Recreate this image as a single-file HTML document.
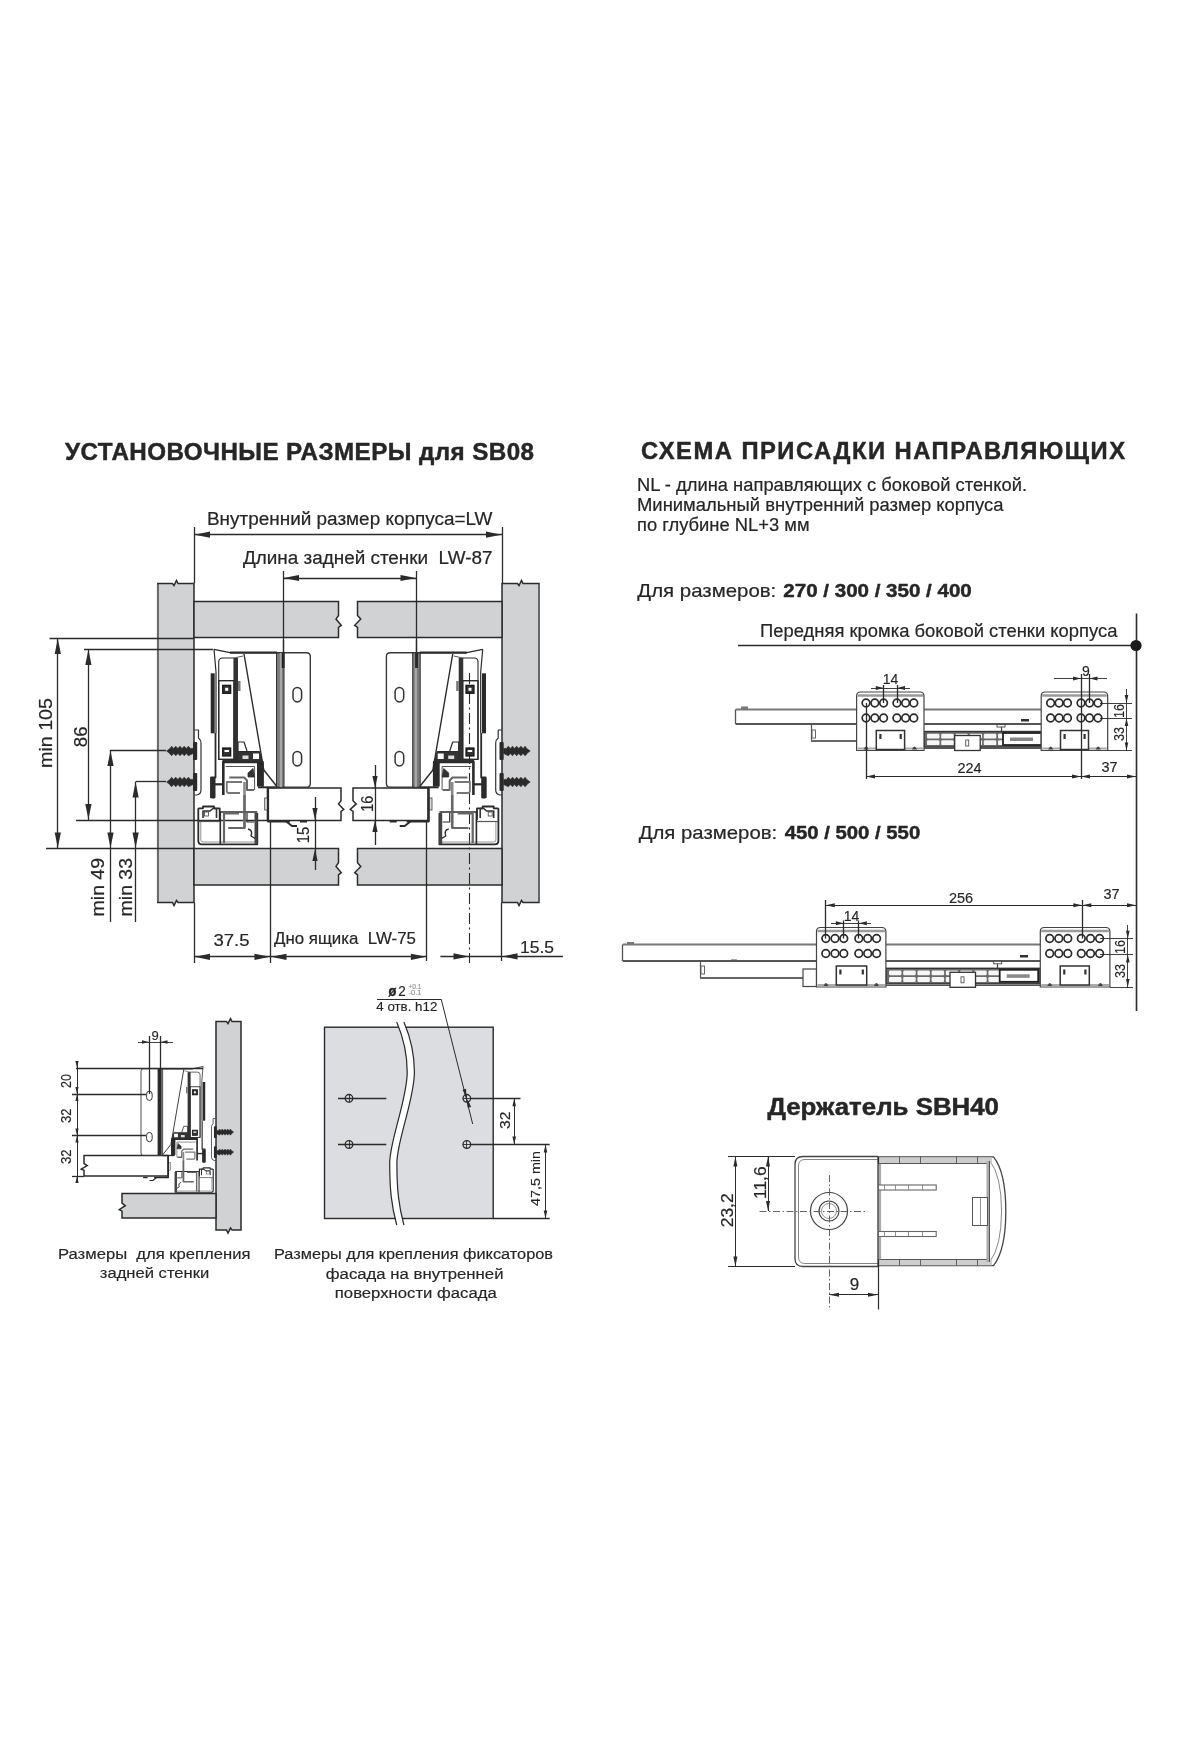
<!DOCTYPE html>
<html><head><meta charset="utf-8">
<style>
html,body{margin:0;padding:0;background:#fff;}
body{width:1200px;height:1760px;overflow:hidden;}
svg{display:block;font-family:"Liberation Sans", sans-serif;will-change:transform;}
</style></head><body>
<svg width="1200" height="1760" viewBox="0 0 1200 1760">
<text x="65" y="460" font-size="24.2" font-weight="700" text-anchor="start" fill="#262626" stroke="#262626" stroke-width="0.45" textLength="469" lengthAdjust="spacing" >УСТАНОВОЧНЫЕ РАЗМЕРЫ для SB08</text>
<text x="207" y="524.5" font-size="18" font-weight="400" text-anchor="start" fill="#262626" stroke="#262626" stroke-width="0.20" textLength="285.5" lengthAdjust="spacingAndGlyphs" >Внутренний размер корпуса=LW</text>
<text x="243" y="564" font-size="18" font-weight="400" text-anchor="start" fill="#262626" stroke="#262626" stroke-width="0.20" textLength="249.5" lengthAdjust="spacingAndGlyphs" >Длина задней стенки&#160;&#160;LW-87</text>
<path d="M157.8,583.5 H172.5 L174,585.5 L176.5,580.5 L178,583.5 H194 V902.5 H178 L176.5,900.5 L174,905.5 L172.5,902.5 H157.8 Z" fill="#d0d2d4" stroke="#2b2b2b" stroke-width="1.5" />
<path d="M502,583.5 H517.5 L519,585.5 L521.5,580.5 L523,583.5 H539 V902.5 H523 L521.5,900.5 L519,905.5 L517.5,902.5 H502 Z" fill="#d0d2d4" stroke="#2b2b2b" stroke-width="1.5" />
<line x1="157.8" y1="584.5" x2="157.8" y2="901.5" stroke="#6a6a6a" stroke-width="1.8"/>
<line x1="539" y1="584.5" x2="539" y2="901.5" stroke="#6a6a6a" stroke-width="1.8"/>
<path d="M194,601.5 H338.5 V615.5 L336.0,619.1 L341.25,625.3 L338.5,627.4 V637.5 H194 Z" fill="#d0d2d4" stroke="#2b2b2b" stroke-width="1.5" />
<path d="M502,601.5 H357.5 V615.5 L360.75,619.1 L354.75,625.3 L357.5,627.4 V637.5 H502 Z" fill="#d0d2d4" stroke="#2b2b2b" stroke-width="1.5" />
<path d="M194,848.5 H338.5 V862.7 L336.0,866.4 L341.25,872.6 L338.5,874.8 V885 H194 Z" fill="#d0d2d4" stroke="#2b2b2b" stroke-width="1.5" />
<path d="M502,848.5 H357.5 V862.7 L360.75,866.4 L354.75,872.6 L357.5,874.8 V885 H502 Z" fill="#d0d2d4" stroke="#2b2b2b" stroke-width="1.5" />
<path d="M267.5,788 H341 V800.7 L338.5,803.9 L343.75,809.5 L341,811.4 V820.5 H267.5 Z" fill="#fff" stroke="#2b2b2b" stroke-width="1.5" />
<path d="M428,788 H353 V800.7 L356.25,803.9 L350.25,809.5 L353,811.4 V820.5 H428 Z" fill="#fff" stroke="#2b2b2b" stroke-width="1.5" />
<line x1="194.5" y1="527" x2="194.5" y2="583" stroke="#2b2b2b" stroke-width="1.3" />
<line x1="502.5" y1="527" x2="502.5" y2="583" stroke="#2b2b2b" stroke-width="1.3" />
<line x1="194" y1="534.5" x2="502" y2="534.5" stroke="#2b2b2b" stroke-width="1.3" />
<path d="M194.50,534.70 L210.00,531.60 L210.00,537.80 Z" fill="#2b2b2b"/>
<path d="M501.50,534.70 L486.00,537.80 L486.00,531.60 Z" fill="#2b2b2b"/>
<line x1="283.5" y1="571" x2="283.5" y2="665" stroke="#2b2b2b" stroke-width="1.3" />
<line x1="416.5" y1="571" x2="416.5" y2="665" stroke="#2b2b2b" stroke-width="1.3" />
<line x1="283" y1="578.5" x2="416.5" y2="578.5" stroke="#2b2b2b" stroke-width="1.3" />
<path d="M283.50,578.00 L299.00,574.90 L299.00,581.10 Z" fill="#2b2b2b"/>
<path d="M416.00,578.00 L400.50,581.10 L400.50,574.90 Z" fill="#2b2b2b"/>
<line x1="49.5" y1="638.5" x2="194" y2="638.5" stroke="#2b2b2b" stroke-width="1.3" />
<line x1="84" y1="649.5" x2="213" y2="649.5" stroke="#2b2b2b" stroke-width="1.3" />
<line x1="110" y1="750.5" x2="166" y2="750.5" stroke="#2b2b2b" stroke-width="1.3" />
<line x1="136" y1="781.5" x2="166" y2="781.5" stroke="#2b2b2b" stroke-width="1.3" />
<line x1="76" y1="820.5" x2="267.5" y2="820.5" stroke="#2b2b2b" stroke-width="1.3" />
<line x1="46" y1="848.5" x2="194" y2="848.5" stroke="#2b2b2b" stroke-width="1.3" />
<line x1="57.5" y1="638" x2="57.5" y2="848.5" stroke="#2b2b2b" stroke-width="1.3" />
<path d="M57.80,638.50 L60.90,654.00 L54.70,654.00 Z" fill="#2b2b2b"/>
<path d="M57.80,848.00 L54.70,832.50 L60.90,832.50 Z" fill="#2b2b2b"/>
<line x1="88.5" y1="649" x2="88.5" y2="820" stroke="#2b2b2b" stroke-width="1.3" />
<path d="M88.40,649.50 L91.50,665.00 L85.30,665.00 Z" fill="#2b2b2b"/>
<path d="M88.40,819.50 L85.30,804.00 L91.50,804.00 Z" fill="#2b2b2b"/>
<line x1="110.5" y1="750" x2="110.5" y2="922" stroke="#2b2b2b" stroke-width="1.3" />
<path d="M110.50,750.50 L113.60,766.00 L107.40,766.00 Z" fill="#2b2b2b"/>
<path d="M110.50,848.00 L107.40,832.50 L113.60,832.50 Z" fill="#2b2b2b"/>
<line x1="135.5" y1="781.5" x2="135.5" y2="922" stroke="#2b2b2b" stroke-width="1.3" />
<path d="M135.60,782.00 L138.70,797.50 L132.50,797.50 Z" fill="#2b2b2b"/>
<path d="M135.60,848.00 L132.50,832.50 L138.70,832.50 Z" fill="#2b2b2b"/>
<text x="51.5" y="768" font-size="18" font-weight="400" text-anchor="start" fill="#262626" stroke="#262626" stroke-width="0.20" textLength="70" lengthAdjust="spacingAndGlyphs" transform="rotate(-90 51.5 768)" >min 105</text>
<text x="87" y="747.2" font-size="18" font-weight="400" text-anchor="start" fill="#262626" stroke="#262626" stroke-width="0.20" textLength="20.7" lengthAdjust="spacingAndGlyphs" transform="rotate(-90 87 747.2)" >86</text>
<text x="104" y="916.4" font-size="18" font-weight="400" text-anchor="start" fill="#262626" stroke="#262626" stroke-width="0.20" textLength="58.4" lengthAdjust="spacingAndGlyphs" transform="rotate(-90 104 916.4)" >min 49</text>
<text x="132" y="916.4" font-size="18" font-weight="400" text-anchor="start" fill="#262626" stroke="#262626" stroke-width="0.20" textLength="58.4" lengthAdjust="spacingAndGlyphs" transform="rotate(-90 132 916.4)" >min 33</text>
<line x1="194.5" y1="902.5" x2="194.5" y2="963" stroke="#2b2b2b" stroke-width="1.3" />
<line x1="270.5" y1="820" x2="270.5" y2="963" stroke="#2b2b2b" stroke-width="1.3" />
<line x1="426.5" y1="820" x2="426.5" y2="961" stroke="#2b2b2b" stroke-width="1.3" />
<line x1="501.5" y1="902.5" x2="501.5" y2="961" stroke="#2b2b2b" stroke-width="1.3" />
<line x1="469.5" y1="673" x2="469.5" y2="963" stroke="#2b2b2b" stroke-width="1.1" stroke-dasharray="11 3.5 2 3.5"/>
<line x1="194" y1="956.5" x2="426.9" y2="956.5" stroke="#2b2b2b" stroke-width="1.3" />
<path d="M194.50,956.80 L210.00,953.70 L210.00,959.90 Z" fill="#2b2b2b"/>
<path d="M270.00,956.80 L254.50,959.90 L254.50,953.70 Z" fill="#2b2b2b"/>
<path d="M271.00,956.80 L286.50,953.70 L286.50,959.90 Z" fill="#2b2b2b"/>
<path d="M426.40,956.80 L410.90,959.90 L410.90,953.70 Z" fill="#2b2b2b"/>
<line x1="440.4" y1="956.5" x2="562.9" y2="956.5" stroke="#2b2b2b" stroke-width="1.3" />
<path d="M469.00,956.40 L453.50,959.50 L453.50,953.30 Z" fill="#2b2b2b"/>
<path d="M502.00,956.40 L517.50,953.30 L517.50,959.50 Z" fill="#2b2b2b"/>
<text x="213.5" y="945.5" font-size="17" font-weight="400" text-anchor="start" fill="#262626" stroke="#262626" stroke-width="0.19" textLength="36" lengthAdjust="spacingAndGlyphs" >37.5</text>
<text x="274" y="943.75" font-size="17" font-weight="400" text-anchor="start" fill="#262626" stroke="#262626" stroke-width="0.19" textLength="142" lengthAdjust="spacingAndGlyphs" >Дно ящика&#160;&#160;LW-75</text>
<text x="520" y="952.5" font-size="17" font-weight="400" text-anchor="start" fill="#262626" stroke="#262626" stroke-width="0.19" textLength="34" lengthAdjust="spacingAndGlyphs" >15.5</text>
<line x1="315.5" y1="797" x2="315.5" y2="870" stroke="#2b2b2b" stroke-width="1.3" />
<path d="M315.00,820.00 L312.40,808.00 L317.60,808.00 Z" fill="#2b2b2b"/>
<path d="M315.00,849.00 L317.60,861.00 L312.40,861.00 Z" fill="#2b2b2b"/>
<line x1="375.5" y1="765" x2="375.5" y2="845" stroke="#2b2b2b" stroke-width="1.3" />
<path d="M375.00,788.00 L372.40,776.00 L377.60,776.00 Z" fill="#2b2b2b"/>
<path d="M375.00,820.00 L377.60,832.00 L372.40,832.00 Z" fill="#2b2b2b"/>
<text x="309.5" y="843.3" font-size="16" font-weight="400" text-anchor="start" fill="#262626" stroke="#262626" stroke-width="0.18" textLength="16.6" lengthAdjust="spacingAndGlyphs" transform="rotate(-90 309.5 843.3)" >15</text>
<text x="373.5" y="811.7" font-size="16" font-weight="400" text-anchor="start" fill="#262626" stroke="#262626" stroke-width="0.18" textLength="16" lengthAdjust="spacingAndGlyphs" transform="rotate(-90 373.5 811.7)" >16</text>
<g><path d="M276,652.7 H306.5 Q310.3,652.7 310.3,656.5 V783.5 Q310.3,787.3 306.5,787.3 H276" fill="none" stroke="#3a3a3a" stroke-width="1.4" stroke-linejoin="round"/>
<rect x="276.5" y="653" width="7.5" height="134" rx="0" fill="#7a7a7a" stroke="#333" stroke-width="1.0"/>
<rect x="279.8" y="653" width="2.2" height="134" rx="0" fill="#a8a8a8" stroke="none" stroke-width="0"/>
<rect x="293" y="687.5" width="8.6" height="14.4" rx="4.3" ry="4.6" fill="none" stroke="#333" stroke-width="1.5"/>
<rect x="293" y="751.5" width="8.6" height="14.4" rx="4.3" ry="4.6" fill="none" stroke="#333" stroke-width="1.5"/>
<path d="M214,649.3 L230,652.7 H277" fill="none" stroke="#2b2b2b" stroke-width="1.3" stroke-linejoin="round"/>
<path d="M230,652.7 H277" fill="none" stroke="#2b2b2b" stroke-width="2.2" stroke-linejoin="round"/>
<path d="M214,649.3 L216,672 V733" fill="none" stroke="#2b2b2b" stroke-width="1.2" stroke-linejoin="round"/>
<path d="M244,654 L263.8,770 L276.5,786" fill="none" stroke="#2b2b2b" stroke-width="1.4" stroke-linejoin="round"/>
<path d="M218.7,759.3 V662 Q218.7,658 222.7,658 H234 V759.3" fill="none" stroke="#2b2b2b" stroke-width="1.1" stroke-linejoin="round"/>
<path d="M234,658 L243,656" fill="none" stroke="#2b2b2b" stroke-width="0.8" stroke-linejoin="round"/>
<rect x="234" y="658" width="4" height="102" rx="0" fill="#333" stroke="none" stroke-width="1.0"/>
<rect x="218.7" y="680.7" width="15.3" height="78.6" rx="0" fill="none" stroke="#2b2b2b" stroke-width="1.4"/>
<rect x="222.7" y="685.3" width="8" height="8" rx="0" fill="#333" stroke="#111" stroke-width="1.2"/>
<rect x="225.2" y="687.8" width="3" height="3" rx="0" fill="#fff" stroke="none" stroke-width="1.0"/>
<rect x="222.7" y="748" width="8" height="8" rx="0" fill="#333" stroke="#111" stroke-width="1.2"/>
<rect x="224.5" y="750" width="4.5" height="2" rx="0" fill="#fff" stroke="none" stroke-width="1.0"/>
<rect x="238" y="681" width="2.5" height="10" rx="0" fill="#777" stroke="none" stroke-width="1.0"/>
<rect x="210.7" y="673.3" width="4" height="60" rx="0" fill="#2a2a2a" stroke="none" stroke-width="1.0"/>
<path d="M215.5,733 V777.5 H211 V798" fill="none" stroke="#2b2b2b" stroke-width="1.8" stroke-linejoin="round"/>
<rect x="210.5" y="777.5" width="5" height="21" rx="1.5" fill="#2a2a2a" stroke="none" stroke-width="1.0"/>
<path d="M237,759.5 V751.5 H259.5 L262.5,762 H223 V759.5 Z" fill="#333" stroke="#2b2b2b" stroke-width="1.0" stroke-linejoin="round"/>
<rect x="242.5" y="755.5" width="6" height="3.5" rx="0" fill="#ddd" stroke="none" stroke-width="1.0"/>
<rect x="253" y="753.5" width="6" height="5.5" rx="0" fill="#fff" stroke="none" stroke-width="1.0"/>
<path d="M238,751.5 V742 H244 L247,751" fill="none" stroke="#2b2b2b" stroke-width="1.2" stroke-linejoin="round"/>
<path d="M223.3,795 V762 H262.5 V786.5" fill="none" stroke="#2b2b2b" stroke-width="2.6" stroke-linejoin="round"/>
<rect x="257" y="762" width="6.4" height="24.5" rx="0" fill="#2a2a2a" stroke="none" stroke-width="1.0"/>
<path d="M225.5,766.5 H254.6 V790" fill="none" stroke="#555" stroke-width="1.0" stroke-linejoin="round"/>
<path d="M229.3,777.5 H244.3 L247,780.5 V790 H254" fill="none" stroke="#666" stroke-width="2.0" stroke-linejoin="round"/>
<path d="M242,782 H226.8 V791 Q226.8,793 229,793 H240" fill="none" stroke="#777" stroke-width="1.8" stroke-linejoin="round"/>
<path d="M248,773 L253,768.5 L254.5,777 L248,777 Z" fill="#333" stroke="#2b2b2b" stroke-width="0.8" stroke-linejoin="round"/>
<path d="M244.5,782 V828" fill="none" stroke="#8a8a8a" stroke-width="2.6" stroke-linejoin="round"/>
<path d="M223.3,784.3 H211" fill="none" stroke="#2b2b2b" stroke-width="2.2" stroke-linejoin="round"/>
<path d="M258,787.3 H277" fill="none" stroke="#2b2b2b" stroke-width="2.0" stroke-linejoin="round"/>
<path d="M198.3,808.3 V841 Q198.3,844.3 202,844.3 H257.3 V813" fill="none" stroke="#2b2b2b" stroke-width="1.8" stroke-linejoin="round"/>
<path d="M200.8,822 V840 Q200.8,842 203,842 H255" fill="none" stroke="#888" stroke-width="0.9" stroke-linejoin="round"/>
<path d="M198.3,808.3 H203 V806.5 H214 V808.3 H219.7 V820" fill="none" stroke="#2b2b2b" stroke-width="1.8" stroke-linejoin="round"/>
<path d="M203,818 V811 H210 L213,808.5 H216.5 V818" fill="none" stroke="#333" stroke-width="1.6" stroke-linejoin="round"/>
<rect x="204.5" y="812" width="4" height="4" rx="0" fill="#fff" stroke="#444" stroke-width="0.8"/>
<path d="M198.3,821.5 H219.7" fill="none" stroke="#555" stroke-width="1.2" stroke-linejoin="round"/>
<path d="M220.3,844 V812 H257.3" fill="none" stroke="#2b2b2b" stroke-width="1.6" stroke-linejoin="round"/>
<path d="M239,813.5 H224 V843" fill="none" stroke="#666" stroke-width="2.2" stroke-linejoin="round"/>
<path d="M244.5,795 V828 H228.3" fill="none" stroke="#666" stroke-width="2.2" stroke-linejoin="round"/>
<path d="M247,813 V822 H254" fill="none" stroke="#2b2b2b" stroke-width="1.2" stroke-linejoin="round"/>
<path d="M248,829 Q253,830 251,836 L256,839" fill="none" stroke="#2b2b2b" stroke-width="1.4" stroke-linejoin="round"/>
<rect x="254.5" y="813" width="3" height="31" rx="0" fill="#444" stroke="none" stroke-width="1.0"/>
<path d="M194.5,730 H198.5 V738 Q201,740 201,743 V790 Q201,794 197,795 H194.5" fill="none" stroke="#333" stroke-width="1.2" stroke-linejoin="round"/>
<rect x="264.7" y="798" width="3.3" height="12" rx="0" fill="#ddd" stroke="#444" stroke-width="0.8"/>
<path d="M268,788 V821.3 H290" fill="none" stroke="#2b2b2b" stroke-width="2.2" stroke-linejoin="round"/>
<path d="M286,821.3 L292,826 H297" fill="none" stroke="#2b2b2b" stroke-width="1.8" stroke-linejoin="round"/>
<path d="M300,821.5 H307" fill="none" stroke="#2b2b2b" stroke-width="2.0" stroke-linejoin="round"/>
<path d="M166.5,751.0 L170.0,748.4 L171.6,746.2 L173.6,748.4 L175.8,746.2 L177.8,748.4 L180.0,746.2 L182.0,748.4 L184.2,746.2 L186.2,748.4 L188.4,746.2 L190.4,748.4 L193.0,748.4 L193.0,753.6 L188.4,755.8 L186.4,753.6 L184.2,755.8 L182.2,753.6 L180.0,755.8 L178.0,753.6 L175.8,755.8 L173.8,753.6 L171.6,755.8 L169.6,753.6 L170.0,753.6 Z" fill="#2a2a2a" stroke="#2a2a2a" stroke-width="0.6"/>
<rect x="193" y="742" width="4.2" height="18" rx="1" fill="#2a2a2a"/>
<path d="M166.5,782.0 L170.0,779.4 L171.6,777.2 L173.6,779.4 L175.8,777.2 L177.8,779.4 L180.0,777.2 L182.0,779.4 L184.2,777.2 L186.2,779.4 L188.4,777.2 L190.4,779.4 L193.0,779.4 L193.0,784.6 L188.4,786.8 L186.4,784.6 L184.2,786.8 L182.2,784.6 L180.0,786.8 L178.0,784.6 L175.8,786.8 L173.8,784.6 L171.6,786.8 L169.6,784.6 L170.0,784.6 Z" fill="#2a2a2a" stroke="#2a2a2a" stroke-width="0.6"/>
<rect x="193" y="773" width="4.2" height="18" rx="1" fill="#2a2a2a"/></g>
<g transform="translate(696.7,0) scale(-1,1)"><path d="M276,652.7 H306.5 Q310.3,652.7 310.3,656.5 V783.5 Q310.3,787.3 306.5,787.3 H276" fill="none" stroke="#3a3a3a" stroke-width="1.4" stroke-linejoin="round"/>
<rect x="276.5" y="653" width="7.5" height="134" rx="0" fill="#7a7a7a" stroke="#333" stroke-width="1.0"/>
<rect x="279.8" y="653" width="2.2" height="134" rx="0" fill="#a8a8a8" stroke="none" stroke-width="0"/>
<rect x="293" y="687.5" width="8.6" height="14.4" rx="4.3" ry="4.6" fill="none" stroke="#333" stroke-width="1.5"/>
<rect x="293" y="751.5" width="8.6" height="14.4" rx="4.3" ry="4.6" fill="none" stroke="#333" stroke-width="1.5"/>
<path d="M214,649.3 L230,652.7 H277" fill="none" stroke="#2b2b2b" stroke-width="1.3" stroke-linejoin="round"/>
<path d="M230,652.7 H277" fill="none" stroke="#2b2b2b" stroke-width="2.2" stroke-linejoin="round"/>
<path d="M214,649.3 L216,672 V733" fill="none" stroke="#2b2b2b" stroke-width="1.2" stroke-linejoin="round"/>
<path d="M244,654 L263.8,770 L276.5,786" fill="none" stroke="#2b2b2b" stroke-width="1.4" stroke-linejoin="round"/>
<path d="M218.7,759.3 V662 Q218.7,658 222.7,658 H234 V759.3" fill="none" stroke="#2b2b2b" stroke-width="1.1" stroke-linejoin="round"/>
<path d="M234,658 L243,656" fill="none" stroke="#2b2b2b" stroke-width="0.8" stroke-linejoin="round"/>
<rect x="234" y="658" width="4" height="102" rx="0" fill="#333" stroke="none" stroke-width="1.0"/>
<rect x="218.7" y="680.7" width="15.3" height="78.6" rx="0" fill="none" stroke="#2b2b2b" stroke-width="1.4"/>
<rect x="222.7" y="685.3" width="8" height="8" rx="0" fill="#333" stroke="#111" stroke-width="1.2"/>
<rect x="225.2" y="687.8" width="3" height="3" rx="0" fill="#fff" stroke="none" stroke-width="1.0"/>
<rect x="222.7" y="748" width="8" height="8" rx="0" fill="#333" stroke="#111" stroke-width="1.2"/>
<rect x="224.5" y="750" width="4.5" height="2" rx="0" fill="#fff" stroke="none" stroke-width="1.0"/>
<rect x="238" y="681" width="2.5" height="10" rx="0" fill="#777" stroke="none" stroke-width="1.0"/>
<rect x="210.7" y="673.3" width="4" height="60" rx="0" fill="#2a2a2a" stroke="none" stroke-width="1.0"/>
<path d="M215.5,733 V777.5 H211 V798" fill="none" stroke="#2b2b2b" stroke-width="1.8" stroke-linejoin="round"/>
<rect x="210.5" y="777.5" width="5" height="21" rx="1.5" fill="#2a2a2a" stroke="none" stroke-width="1.0"/>
<path d="M237,759.5 V751.5 H259.5 L262.5,762 H223 V759.5 Z" fill="#333" stroke="#2b2b2b" stroke-width="1.0" stroke-linejoin="round"/>
<rect x="242.5" y="755.5" width="6" height="3.5" rx="0" fill="#ddd" stroke="none" stroke-width="1.0"/>
<rect x="253" y="753.5" width="6" height="5.5" rx="0" fill="#fff" stroke="none" stroke-width="1.0"/>
<path d="M238,751.5 V742 H244 L247,751" fill="none" stroke="#2b2b2b" stroke-width="1.2" stroke-linejoin="round"/>
<path d="M223.3,795 V762 H262.5 V786.5" fill="none" stroke="#2b2b2b" stroke-width="2.6" stroke-linejoin="round"/>
<rect x="257" y="762" width="6.4" height="24.5" rx="0" fill="#2a2a2a" stroke="none" stroke-width="1.0"/>
<path d="M225.5,766.5 H254.6 V790" fill="none" stroke="#555" stroke-width="1.0" stroke-linejoin="round"/>
<path d="M229.3,777.5 H244.3 L247,780.5 V790 H254" fill="none" stroke="#666" stroke-width="2.0" stroke-linejoin="round"/>
<path d="M242,782 H226.8 V791 Q226.8,793 229,793 H240" fill="none" stroke="#777" stroke-width="1.8" stroke-linejoin="round"/>
<path d="M248,773 L253,768.5 L254.5,777 L248,777 Z" fill="#333" stroke="#2b2b2b" stroke-width="0.8" stroke-linejoin="round"/>
<path d="M244.5,782 V828" fill="none" stroke="#8a8a8a" stroke-width="2.6" stroke-linejoin="round"/>
<path d="M223.3,784.3 H211" fill="none" stroke="#2b2b2b" stroke-width="2.2" stroke-linejoin="round"/>
<path d="M258,787.3 H277" fill="none" stroke="#2b2b2b" stroke-width="2.0" stroke-linejoin="round"/>
<path d="M198.3,808.3 V841 Q198.3,844.3 202,844.3 H257.3 V813" fill="none" stroke="#2b2b2b" stroke-width="1.8" stroke-linejoin="round"/>
<path d="M200.8,822 V840 Q200.8,842 203,842 H255" fill="none" stroke="#888" stroke-width="0.9" stroke-linejoin="round"/>
<path d="M198.3,808.3 H203 V806.5 H214 V808.3 H219.7 V820" fill="none" stroke="#2b2b2b" stroke-width="1.8" stroke-linejoin="round"/>
<path d="M203,818 V811 H210 L213,808.5 H216.5 V818" fill="none" stroke="#333" stroke-width="1.6" stroke-linejoin="round"/>
<rect x="204.5" y="812" width="4" height="4" rx="0" fill="#fff" stroke="#444" stroke-width="0.8"/>
<path d="M198.3,821.5 H219.7" fill="none" stroke="#555" stroke-width="1.2" stroke-linejoin="round"/>
<path d="M220.3,844 V812 H257.3" fill="none" stroke="#2b2b2b" stroke-width="1.6" stroke-linejoin="round"/>
<path d="M239,813.5 H224 V843" fill="none" stroke="#666" stroke-width="2.2" stroke-linejoin="round"/>
<path d="M244.5,795 V828 H228.3" fill="none" stroke="#666" stroke-width="2.2" stroke-linejoin="round"/>
<path d="M247,813 V822 H254" fill="none" stroke="#2b2b2b" stroke-width="1.2" stroke-linejoin="round"/>
<path d="M248,829 Q253,830 251,836 L256,839" fill="none" stroke="#2b2b2b" stroke-width="1.4" stroke-linejoin="round"/>
<rect x="254.5" y="813" width="3" height="31" rx="0" fill="#444" stroke="none" stroke-width="1.0"/>
<path d="M194.5,730 H198.5 V738 Q201,740 201,743 V790 Q201,794 197,795 H194.5" fill="none" stroke="#333" stroke-width="1.2" stroke-linejoin="round"/>
<rect x="264.7" y="798" width="3.3" height="12" rx="0" fill="#ddd" stroke="#444" stroke-width="0.8"/>
<path d="M268,788 V821.3 H290" fill="none" stroke="#2b2b2b" stroke-width="2.2" stroke-linejoin="round"/>
<path d="M286,821.3 L292,826 H297" fill="none" stroke="#2b2b2b" stroke-width="1.8" stroke-linejoin="round"/>
<path d="M300,821.5 H307" fill="none" stroke="#2b2b2b" stroke-width="2.0" stroke-linejoin="round"/>
<path d="M166.5,751.0 L170.0,748.4 L171.6,746.2 L173.6,748.4 L175.8,746.2 L177.8,748.4 L180.0,746.2 L182.0,748.4 L184.2,746.2 L186.2,748.4 L188.4,746.2 L190.4,748.4 L193.0,748.4 L193.0,753.6 L188.4,755.8 L186.4,753.6 L184.2,755.8 L182.2,753.6 L180.0,755.8 L178.0,753.6 L175.8,755.8 L173.8,753.6 L171.6,755.8 L169.6,753.6 L170.0,753.6 Z" fill="#2a2a2a" stroke="#2a2a2a" stroke-width="0.6"/>
<rect x="193" y="742" width="4.2" height="18" rx="1" fill="#2a2a2a"/>
<path d="M166.5,782.0 L170.0,779.4 L171.6,777.2 L173.6,779.4 L175.8,777.2 L177.8,779.4 L180.0,777.2 L182.0,779.4 L184.2,777.2 L186.2,779.4 L188.4,777.2 L190.4,779.4 L193.0,779.4 L193.0,784.6 L188.4,786.8 L186.4,784.6 L184.2,786.8 L182.2,784.6 L180.0,786.8 L178.0,784.6 L175.8,786.8 L173.8,784.6 L171.6,786.8 L169.6,784.6 L170.0,784.6 Z" fill="#2a2a2a" stroke="#2a2a2a" stroke-width="0.6"/>
<rect x="193" y="773" width="4.2" height="18" rx="1" fill="#2a2a2a"/></g>
<rect x="281.8" y="653" width="2.6" height="15" fill="#1a1a1a"/>
<rect x="415.2" y="653" width="2.6" height="15" fill="#1a1a1a"/>
<line x1="283.5" y1="640" x2="283.5" y2="668" stroke="#2b2b2b" stroke-width="1.3"/>
<line x1="416.5" y1="640" x2="416.5" y2="668" stroke="#2b2b2b" stroke-width="1.3"/>
<text x="641" y="459.3" font-size="23.8" font-weight="700" text-anchor="start" fill="#262626" stroke="#262626" stroke-width="0.45" textLength="484" lengthAdjust="spacing" >СХЕМА ПРИСАДКИ НАПРАВЛЯЮЩИХ</text>
<text x="637" y="490.5" font-size="18" font-weight="400" text-anchor="start" fill="#262626" stroke="#262626" stroke-width="0.20" textLength="390" lengthAdjust="spacingAndGlyphs" >NL - длина направляющих с боковой стенкой.</text>
<text x="637" y="510.5" font-size="18" font-weight="400" text-anchor="start" fill="#262626" stroke="#262626" stroke-width="0.20" textLength="366.5" lengthAdjust="spacingAndGlyphs" >Минимальный внутренний размер корпуса</text>
<text x="637" y="531" font-size="18" font-weight="400" text-anchor="start" fill="#262626" stroke="#262626" stroke-width="0.20" textLength="172.5" lengthAdjust="spacingAndGlyphs" >по глубине NL+3 мм</text>
<text x="637.3" y="597" font-size="18.6" font-weight="400" text-anchor="start" fill="#262626" stroke="#262626" stroke-width="0.20" textLength="139" lengthAdjust="spacingAndGlyphs" >Для размеров:</text>
<text x="783.3" y="597" font-size="18.6" font-weight="700" text-anchor="start" fill="#262626" stroke="#262626" stroke-width="0.45" textLength="188.5" lengthAdjust="spacingAndGlyphs" >270 / 300 / 350 / 400</text>
<text x="638.7" y="838.7" font-size="18.6" font-weight="400" text-anchor="start" fill="#262626" stroke="#262626" stroke-width="0.20" textLength="138.5" lengthAdjust="spacingAndGlyphs" >Для размеров:</text>
<text x="784.7" y="838.7" font-size="18.6" font-weight="700" text-anchor="start" fill="#262626" stroke="#262626" stroke-width="0.45" textLength="135.5" lengthAdjust="spacingAndGlyphs" >450 / 500 / 550</text>
<text x="760" y="637" font-size="17.5" font-weight="400" text-anchor="start" fill="#262626" stroke="#262626" stroke-width="0.19" textLength="357.5" lengthAdjust="spacingAndGlyphs" >Передняя кромка боковой стенки корпуса</text>
<line x1="738" y1="645.5" x2="1136" y2="645.5" stroke="#2b2b2b" stroke-width="1.3" />
<line x1="1136.5" y1="613.5" x2="1136.5" y2="1011" stroke="#2b2b2b" stroke-width="1.6" />
<circle cx="1136" cy="645.5" r="5.6" fill="#1a1a1a"/>
<line x1="735.6" y1="709.5" x2="1041.2" y2="709.5" stroke="#777" stroke-width="2.2" />
<line x1="735.6" y1="724" x2="1041.2" y2="724" stroke="#555" stroke-width="2.2" />
<line x1="735.5" y1="709.5" x2="735.5" y2="724" stroke="#555" stroke-width="1.3" />
<rect x="741" y="706.5" width="7" height="3" fill="#777" stroke="none" stroke-width="1.2" />
<line x1="811.5" y1="724" x2="811.5" y2="741" stroke="#555" stroke-width="1.2" />
<line x1="811" y1="741" x2="857" y2="741" stroke="#666" stroke-width="2.0" />
<rect x="812" y="730" width="3.5" height="8" fill="#fff" stroke="#555" stroke-width="0.9" />
<rect x="924" y="731.5" width="117.20000000000005" height="15.6" fill="#6a6a6a" stroke="#333" stroke-width="1.4" />
<line x1="924" y1="748.5" x2="1041.2" y2="748.5" stroke="#555" stroke-width="1.2" />
<rect x="927.0" y="733.7" width="12.5" height="4.8" rx="1.2" fill="#f6f6f6"/>
<rect x="927.0" y="740.3" width="12.5" height="4.8" rx="1.2" fill="#f6f6f6"/>
<rect x="941.2" y="733.7" width="12.5" height="4.8" rx="1.2" fill="#f6f6f6"/>
<rect x="941.2" y="740.3" width="12.5" height="4.8" rx="1.2" fill="#f6f6f6"/>
<rect x="955.4" y="733.7" width="12.5" height="4.8" rx="1.2" fill="#f6f6f6"/>
<rect x="955.4" y="740.3" width="12.5" height="4.8" rx="1.2" fill="#f6f6f6"/>
<rect x="969.6" y="733.7" width="12.5" height="4.8" rx="1.2" fill="#f6f6f6"/>
<rect x="969.6" y="740.3" width="12.5" height="4.8" rx="1.2" fill="#f6f6f6"/>
<rect x="983.8" y="733.7" width="12.5" height="4.8" rx="1.2" fill="#f6f6f6"/>
<rect x="983.8" y="740.3" width="12.5" height="4.8" rx="1.2" fill="#f6f6f6"/>
<rect x="998.0" y="733.7" width="12.5" height="4.8" rx="1.2" fill="#f6f6f6"/>
<rect x="998.0" y="740.3" width="12.5" height="4.8" rx="1.2" fill="#f6f6f6"/>
<rect x="1012.2" y="733.7" width="12.5" height="4.8" rx="1.2" fill="#f6f6f6"/>
<rect x="1012.2" y="740.3" width="12.5" height="4.8" rx="1.2" fill="#f6f6f6"/>
<rect x="1026.4" y="733.7" width="11.8" height="4.8" rx="1.2" fill="#f6f6f6"/>
<rect x="1026.4" y="740.3" width="11.8" height="4.8" rx="1.2" fill="#f6f6f6"/>
<rect x="954.7" y="735.5" width="25.5" height="15" fill="#fff" stroke="#333" stroke-width="1.3" />
<rect x="965.7" y="740.0" width="3" height="6" fill="#fff" stroke="#555" stroke-width="0.9" />
<rect x="1003" y="733.0" width="38.5" height="12" fill="#fff" stroke="#222" stroke-width="1.8" />
<rect x="1010" y="737.5" width="23" height="3.5" fill="#888" stroke="none" stroke-width="0" />
<rect x="997" y="724.5" width="8" height="2.5" fill="#fff" stroke="#444" stroke-width="0.9" />
<line x1="1001.5" y1="727.0" x2="1001.5" y2="731.5" stroke="#444" stroke-width="1.2" />
<rect x="1021" y="719" width="8" height="2.5" fill="#333" stroke="none" stroke-width="1.2" />
<path d="M856.6,750.5 V696 Q856.6,692 860.6,692 H920.0 Q924.0,692 924.0,696 V750.5 Z" fill="#fff" stroke="#444" stroke-width="1.2" />
<line x1="857.6" y1="695.5" x2="923.0" y2="695.5" stroke="#9a9a9a" stroke-width="2.6" />
<line x1="857.6" y1="748.5" x2="923.0" y2="748.5" stroke="#aaa" stroke-width="2.2" />
<circle cx="866.0" cy="703" r="3.8" fill="#fff" stroke="#2a2a2a" stroke-width="1.7"/>
<circle cx="866.0" cy="718" r="3.8" fill="#fff" stroke="#2a2a2a" stroke-width="1.7"/>
<circle cx="874.8000000000001" cy="703" r="3.8" fill="#fff" stroke="#2a2a2a" stroke-width="1.7"/>
<circle cx="874.8000000000001" cy="718" r="3.8" fill="#fff" stroke="#2a2a2a" stroke-width="1.7"/>
<circle cx="883.6" cy="703" r="3.8" fill="#fff" stroke="#2a2a2a" stroke-width="1.7"/>
<circle cx="883.6" cy="718" r="3.8" fill="#fff" stroke="#2a2a2a" stroke-width="1.7"/>
<circle cx="896.9" cy="703" r="3.8" fill="#fff" stroke="#2a2a2a" stroke-width="1.7"/>
<circle cx="896.9" cy="718" r="3.8" fill="#fff" stroke="#2a2a2a" stroke-width="1.7"/>
<circle cx="905.6" cy="703" r="3.8" fill="#fff" stroke="#2a2a2a" stroke-width="1.7"/>
<circle cx="905.6" cy="718" r="3.8" fill="#fff" stroke="#2a2a2a" stroke-width="1.7"/>
<circle cx="913.8000000000001" cy="703" r="3.8" fill="#fff" stroke="#2a2a2a" stroke-width="1.7"/>
<circle cx="913.8000000000001" cy="718" r="3.8" fill="#fff" stroke="#2a2a2a" stroke-width="1.7"/>
<rect x="876.3000000000001" y="730.5" width="28.3" height="19" fill="#fff" stroke="#333" stroke-width="1.5" />
<rect x="879.3000000000001" y="734" width="2.2" height="5" fill="#333" stroke="none" stroke-width="0" />
<rect x="899.6" y="734" width="2.2" height="5" fill="#333" stroke="none" stroke-width="0" />
<path d="M863.6,749.5 Q866.1,743.5 868.6,749.5 Z" fill="#444"/>
<path d="M912.0,749.5 Q914.5,743.5 917.0,749.5 Z" fill="#444"/>
<path d="M1041.2,750.5 V696 Q1041.2,692 1045.2,692 H1103.7 Q1107.7,692 1107.7,696 V750.5 Z" fill="#fff" stroke="#444" stroke-width="1.2" />
<line x1="1042.2" y1="695.5" x2="1106.7" y2="695.5" stroke="#9a9a9a" stroke-width="2.6" />
<line x1="1042.2" y1="748.5" x2="1106.7" y2="748.5" stroke="#aaa" stroke-width="2.2" />
<circle cx="1050.6000000000001" cy="703" r="3.8" fill="#fff" stroke="#2a2a2a" stroke-width="1.7"/>
<circle cx="1050.6000000000001" cy="718" r="3.8" fill="#fff" stroke="#2a2a2a" stroke-width="1.7"/>
<circle cx="1059.1000000000001" cy="703" r="3.8" fill="#fff" stroke="#2a2a2a" stroke-width="1.7"/>
<circle cx="1059.1000000000001" cy="718" r="3.8" fill="#fff" stroke="#2a2a2a" stroke-width="1.7"/>
<circle cx="1067.5" cy="703" r="3.8" fill="#fff" stroke="#2a2a2a" stroke-width="1.7"/>
<circle cx="1067.5" cy="718" r="3.8" fill="#fff" stroke="#2a2a2a" stroke-width="1.7"/>
<circle cx="1081.0" cy="703" r="3.8" fill="#fff" stroke="#2a2a2a" stroke-width="1.7"/>
<circle cx="1081.0" cy="718" r="3.8" fill="#fff" stroke="#2a2a2a" stroke-width="1.7"/>
<circle cx="1089.5" cy="703" r="3.8" fill="#fff" stroke="#2a2a2a" stroke-width="1.7"/>
<circle cx="1089.5" cy="718" r="3.8" fill="#fff" stroke="#2a2a2a" stroke-width="1.7"/>
<circle cx="1098.0" cy="703" r="3.8" fill="#fff" stroke="#2a2a2a" stroke-width="1.7"/>
<circle cx="1098.0" cy="718" r="3.8" fill="#fff" stroke="#2a2a2a" stroke-width="1.7"/>
<rect x="1060.5" y="730.5" width="27.999999999999996" height="19" fill="#fff" stroke="#333" stroke-width="1.5" />
<rect x="1063.5" y="734" width="2.2" height="5" fill="#333" stroke="none" stroke-width="0" />
<rect x="1083.5" y="734" width="2.2" height="5" fill="#333" stroke="none" stroke-width="0" />
<path d="M1048.2,749.5 Q1050.7,743.5 1053.2,749.5 Z" fill="#444"/>
<path d="M1095.7,749.5 Q1098.2,743.5 1100.7,749.5 Z" fill="#444"/>
<line x1="883.5" y1="685" x2="883.5" y2="703" stroke="#2b2b2b" stroke-width="1.3" />
<line x1="897.5" y1="685" x2="897.5" y2="703" stroke="#2b2b2b" stroke-width="1.3" />
<line x1="871" y1="688.5" x2="910" y2="688.5" stroke="#2b2b2b" stroke-width="0.9" />
<path d="M883.80,688.00 L875.80,690.00 L875.80,686.00 Z" fill="#2b2b2b"/>
<path d="M897.00,688.00 L905.00,686.00 L905.00,690.00 Z" fill="#2b2b2b"/>
<text x="890.5" y="683.5" font-size="14" font-weight="400" text-anchor="middle" fill="#262626" stroke="#262626" stroke-width="0.15" >14</text>
<line x1="1081.5" y1="674" x2="1081.5" y2="779" stroke="#2b2b2b" stroke-width="1.3" />
<line x1="1089.5" y1="674" x2="1089.5" y2="703" stroke="#2b2b2b" stroke-width="1.3" />
<line x1="1054" y1="678.5" x2="1107" y2="678.5" stroke="#2b2b2b" stroke-width="0.9" />
<path d="M1081.00,678.50 L1073.00,680.50 L1073.00,676.50 Z" fill="#2b2b2b"/>
<path d="M1089.50,678.50 L1097.50,676.50 L1097.50,680.50 Z" fill="#2b2b2b"/>
<text x="1086" y="675.5" font-size="14" font-weight="400" text-anchor="middle" fill="#262626" stroke="#262626" stroke-width="0.15" >9</text>
<line x1="866.5" y1="703" x2="866.5" y2="779" stroke="#2b2b2b" stroke-width="1.3" />
<line x1="866" y1="776.5" x2="1136" y2="776.5" stroke="#2b2b2b" stroke-width="1.0" />
<path d="M866.00,776.50 L875.00,774.50 L875.00,778.50 Z" fill="#2b2b2b"/>
<path d="M1081.00,776.50 L1072.00,778.50 L1072.00,774.50 Z" fill="#2b2b2b"/>
<path d="M1081.00,776.50 L1090.00,774.50 L1090.00,778.50 Z" fill="#2b2b2b"/>
<path d="M1136.00,776.50 L1127.00,778.50 L1127.00,774.50 Z" fill="#2b2b2b"/>
<text x="969.5" y="773" font-size="14.5" font-weight="400" text-anchor="middle" fill="#262626" stroke="#262626" stroke-width="0.16" >224</text>
<text x="1109.5" y="772" font-size="14.5" font-weight="400" text-anchor="middle" fill="#262626" stroke="#262626" stroke-width="0.16" >37</text>
<line x1="1100" y1="703.5" x2="1132" y2="703.5" stroke="#2b2b2b" stroke-width="0.9" />
<line x1="1100" y1="718.5" x2="1132" y2="718.5" stroke="#2b2b2b" stroke-width="0.9" />
<line x1="1107.5" y1="750.5" x2="1132" y2="750.5" stroke="#2b2b2b" stroke-width="0.9" />
<line x1="1126.5" y1="689" x2="1126.5" y2="751" stroke="#2b2b2b" stroke-width="0.9" />
<path d="M1126.50,703.00 L1124.70,695.00 L1128.30,695.00 Z" fill="#2b2b2b"/>
<path d="M1126.50,718.00 L1128.30,726.00 L1124.70,726.00 Z" fill="#2b2b2b"/>
<path d="M1126.50,750.50 L1124.70,742.50 L1128.30,742.50 Z" fill="#2b2b2b"/>
<text x="1124" y="718" font-size="14" font-weight="400" text-anchor="start" fill="#262626" stroke="#262626" stroke-width="0.15" textLength="14" lengthAdjust="spacingAndGlyphs" transform="rotate(-90 1124 718)" >16</text>
<text x="1124" y="741" font-size="14" font-weight="400" text-anchor="start" fill="#262626" stroke="#262626" stroke-width="0.15" textLength="14" lengthAdjust="spacingAndGlyphs" transform="rotate(-90 1124 741)" >33</text>
<line x1="622.8" y1="944.5" x2="1040.3" y2="944.5" stroke="#777" stroke-width="2.2" />
<line x1="622.8" y1="961" x2="1040.3" y2="961" stroke="#555" stroke-width="2.2" />
<line x1="622.5" y1="944.5" x2="622.5" y2="961" stroke="#555" stroke-width="1.3" />
<rect x="627" y="942" width="7" height="2.5" fill="#777" stroke="none" stroke-width="1.2" />
<line x1="700.5" y1="961" x2="700.5" y2="978" stroke="#555" stroke-width="1.2" />
<line x1="700" y1="978" x2="803" y2="978" stroke="#666" stroke-width="2.0" />
<rect x="701" y="966" width="3.5" height="8" fill="#fff" stroke="#555" stroke-width="0.9" />
<rect x="803" y="969" width="13.5" height="17.5" fill="#fff" stroke="#444" stroke-width="1.2" />
<rect x="731" y="959.5" width="6" height="2" fill="#555" stroke="none" stroke-width="1.2" />
<rect x="886" y="968.3" width="154.29999999999995" height="15.6" fill="#6a6a6a" stroke="#333" stroke-width="1.4" />
<line x1="886" y1="985.5" x2="1040.3" y2="985.5" stroke="#555" stroke-width="1.2" />
<rect x="889.0" y="970.5" width="12.5" height="4.8" rx="1.2" fill="#f6f6f6"/>
<rect x="889.0" y="977.0999999999999" width="12.5" height="4.8" rx="1.2" fill="#f6f6f6"/>
<rect x="903.2" y="970.5" width="12.5" height="4.8" rx="1.2" fill="#f6f6f6"/>
<rect x="903.2" y="977.0999999999999" width="12.5" height="4.8" rx="1.2" fill="#f6f6f6"/>
<rect x="917.4" y="970.5" width="12.5" height="4.8" rx="1.2" fill="#f6f6f6"/>
<rect x="917.4" y="977.0999999999999" width="12.5" height="4.8" rx="1.2" fill="#f6f6f6"/>
<rect x="931.6" y="970.5" width="12.5" height="4.8" rx="1.2" fill="#f6f6f6"/>
<rect x="931.6" y="977.0999999999999" width="12.5" height="4.8" rx="1.2" fill="#f6f6f6"/>
<rect x="945.8" y="970.5" width="12.5" height="4.8" rx="1.2" fill="#f6f6f6"/>
<rect x="945.8" y="977.0999999999999" width="12.5" height="4.8" rx="1.2" fill="#f6f6f6"/>
<rect x="960.0" y="970.5" width="12.5" height="4.8" rx="1.2" fill="#f6f6f6"/>
<rect x="960.0" y="977.0999999999999" width="12.5" height="4.8" rx="1.2" fill="#f6f6f6"/>
<rect x="974.2" y="970.5" width="12.5" height="4.8" rx="1.2" fill="#f6f6f6"/>
<rect x="974.2" y="977.0999999999999" width="12.5" height="4.8" rx="1.2" fill="#f6f6f6"/>
<rect x="988.4" y="970.5" width="12.5" height="4.8" rx="1.2" fill="#f6f6f6"/>
<rect x="988.4" y="977.0999999999999" width="12.5" height="4.8" rx="1.2" fill="#f6f6f6"/>
<rect x="1002.6" y="970.5" width="12.5" height="4.8" rx="1.2" fill="#f6f6f6"/>
<rect x="1002.6" y="977.0999999999999" width="12.5" height="4.8" rx="1.2" fill="#f6f6f6"/>
<rect x="1016.8" y="970.5" width="12.5" height="4.8" rx="1.2" fill="#f6f6f6"/>
<rect x="1016.8" y="977.0999999999999" width="12.5" height="4.8" rx="1.2" fill="#f6f6f6"/>
<rect x="1031.0" y="970.5" width="6.3" height="4.8" rx="1.2" fill="#f6f6f6"/>
<rect x="1031.0" y="977.0999999999999" width="6.3" height="4.8" rx="1.2" fill="#f6f6f6"/>
<rect x="950" y="972.3" width="25.5" height="15" fill="#fff" stroke="#333" stroke-width="1.3" />
<rect x="961" y="976.8" width="3" height="6" fill="#fff" stroke="#555" stroke-width="0.9" />
<rect x="999.7" y="969.8" width="38.5" height="12" fill="#fff" stroke="#222" stroke-width="1.8" />
<rect x="1006.7" y="974.3" width="23" height="3.5" fill="#888" stroke="none" stroke-width="0" />
<rect x="993.7" y="961.3" width="8" height="2.5" fill="#fff" stroke="#444" stroke-width="0.9" />
<line x1="997.5" y1="963.8" x2="997.5" y2="968.3" stroke="#444" stroke-width="1.2" />
<rect x="1020" y="955" width="8" height="2.5" fill="#333" stroke="none" stroke-width="1.2" />
<path d="M816.5,987.0 V931.5 Q816.5,927.5 820.5,927.5 H881.9 Q885.9,927.5 885.9,931.5 V987.0 Z" fill="#fff" stroke="#444" stroke-width="1.2" />
<line x1="817.5" y1="931.0" x2="884.9" y2="931.0" stroke="#9a9a9a" stroke-width="2.6" />
<line x1="817.5" y1="985.0" x2="884.9" y2="985.0" stroke="#aaa" stroke-width="2.2" />
<circle cx="825.8" cy="938.5" r="3.8" fill="#fff" stroke="#2a2a2a" stroke-width="1.7"/>
<circle cx="825.8" cy="953.5" r="3.8" fill="#fff" stroke="#2a2a2a" stroke-width="1.7"/>
<circle cx="835.0" cy="938.5" r="3.8" fill="#fff" stroke="#2a2a2a" stroke-width="1.7"/>
<circle cx="835.0" cy="953.5" r="3.8" fill="#fff" stroke="#2a2a2a" stroke-width="1.7"/>
<circle cx="843.8" cy="938.5" r="3.8" fill="#fff" stroke="#2a2a2a" stroke-width="1.7"/>
<circle cx="843.8" cy="953.5" r="3.8" fill="#fff" stroke="#2a2a2a" stroke-width="1.7"/>
<circle cx="858.8" cy="938.5" r="3.8" fill="#fff" stroke="#2a2a2a" stroke-width="1.7"/>
<circle cx="858.8" cy="953.5" r="3.8" fill="#fff" stroke="#2a2a2a" stroke-width="1.7"/>
<circle cx="867.7" cy="938.5" r="3.8" fill="#fff" stroke="#2a2a2a" stroke-width="1.7"/>
<circle cx="867.7" cy="953.5" r="3.8" fill="#fff" stroke="#2a2a2a" stroke-width="1.7"/>
<circle cx="876.6" cy="938.5" r="3.8" fill="#fff" stroke="#2a2a2a" stroke-width="1.7"/>
<circle cx="876.6" cy="953.5" r="3.8" fill="#fff" stroke="#2a2a2a" stroke-width="1.7"/>
<rect x="836.3" y="966.0" width="30.400000000000002" height="19" fill="#fff" stroke="#333" stroke-width="1.5" />
<rect x="839.3" y="969.5" width="2.2" height="5" fill="#333" stroke="none" stroke-width="0" />
<rect x="861.7" y="969.5" width="2.2" height="5" fill="#333" stroke="none" stroke-width="0" />
<path d="M823.5,986.0 Q826.0,980.0 828.5,986.0 Z" fill="#444"/>
<path d="M873.9,986.0 Q876.4,980.0 878.9,986.0 Z" fill="#444"/>
<path d="M1040.3,987.0 V931.5 Q1040.3,927.5 1044.3,927.5 H1105.8999999999999 Q1109.8999999999999,927.5 1109.8999999999999,931.5 V987.0 Z" fill="#fff" stroke="#444" stroke-width="1.2" />
<line x1="1041.3" y1="931.0" x2="1108.8999999999999" y2="931.0" stroke="#9a9a9a" stroke-width="2.6" />
<line x1="1041.3" y1="985.0" x2="1108.8999999999999" y2="985.0" stroke="#aaa" stroke-width="2.2" />
<circle cx="1049.7" cy="938.5" r="3.8" fill="#fff" stroke="#2a2a2a" stroke-width="1.7"/>
<circle cx="1049.7" cy="953.5" r="3.8" fill="#fff" stroke="#2a2a2a" stroke-width="1.7"/>
<circle cx="1058.8" cy="938.5" r="3.8" fill="#fff" stroke="#2a2a2a" stroke-width="1.7"/>
<circle cx="1058.8" cy="953.5" r="3.8" fill="#fff" stroke="#2a2a2a" stroke-width="1.7"/>
<circle cx="1067.8" cy="938.5" r="3.8" fill="#fff" stroke="#2a2a2a" stroke-width="1.7"/>
<circle cx="1067.8" cy="953.5" r="3.8" fill="#fff" stroke="#2a2a2a" stroke-width="1.7"/>
<circle cx="1081.3" cy="938.5" r="3.8" fill="#fff" stroke="#2a2a2a" stroke-width="1.7"/>
<circle cx="1081.3" cy="953.5" r="3.8" fill="#fff" stroke="#2a2a2a" stroke-width="1.7"/>
<circle cx="1090.5" cy="938.5" r="3.8" fill="#fff" stroke="#2a2a2a" stroke-width="1.7"/>
<circle cx="1090.5" cy="953.5" r="3.8" fill="#fff" stroke="#2a2a2a" stroke-width="1.7"/>
<circle cx="1099.6" cy="938.5" r="3.8" fill="#fff" stroke="#2a2a2a" stroke-width="1.7"/>
<circle cx="1099.6" cy="953.5" r="3.8" fill="#fff" stroke="#2a2a2a" stroke-width="1.7"/>
<rect x="1060.2" y="966.0" width="29.1" height="19" fill="#fff" stroke="#333" stroke-width="1.5" />
<rect x="1063.2" y="969.5" width="2.2" height="5" fill="#333" stroke="none" stroke-width="0" />
<rect x="1084.3" y="969.5" width="2.2" height="5" fill="#333" stroke="none" stroke-width="0" />
<path d="M1047.3,986.0 Q1049.8,980.0 1052.3,986.0 Z" fill="#444"/>
<path d="M1097.8999999999999,986.0 Q1100.3999999999999,980.0 1102.8999999999999,986.0 Z" fill="#444"/>
<line x1="843.5" y1="920.5" x2="843.5" y2="938.5" stroke="#2b2b2b" stroke-width="1.3" />
<line x1="858.5" y1="920.5" x2="858.5" y2="938.5" stroke="#2b2b2b" stroke-width="1.3" />
<line x1="831" y1="923.5" x2="871" y2="923.5" stroke="#2b2b2b" stroke-width="0.9" />
<path d="M843.80,923.20 L835.80,925.20 L835.80,921.20 Z" fill="#2b2b2b"/>
<path d="M858.80,923.20 L866.80,921.20 L866.80,925.20 Z" fill="#2b2b2b"/>
<text x="851.5" y="920.8" font-size="14" font-weight="400" text-anchor="middle" fill="#262626" stroke="#262626" stroke-width="0.15" >14</text>
<line x1="825.5" y1="900" x2="825.5" y2="938.5" stroke="#2b2b2b" stroke-width="1.3" />
<line x1="1082.5" y1="900" x2="1082.5" y2="938.5" stroke="#2b2b2b" stroke-width="1.3" />
<line x1="825.8" y1="905.5" x2="1136" y2="905.5" stroke="#2b2b2b" stroke-width="1.0" />
<path d="M825.80,905.30 L834.80,903.30 L834.80,907.30 Z" fill="#2b2b2b"/>
<path d="M1082.30,905.30 L1073.30,907.30 L1073.30,903.30 Z" fill="#2b2b2b"/>
<path d="M1082.30,905.30 L1091.30,903.30 L1091.30,907.30 Z" fill="#2b2b2b"/>
<path d="M1136.00,905.30 L1127.00,907.30 L1127.00,903.30 Z" fill="#2b2b2b"/>
<text x="961" y="902.7" font-size="14.5" font-weight="400" text-anchor="middle" fill="#262626" stroke="#262626" stroke-width="0.16" >256</text>
<text x="1111.5" y="899" font-size="14.5" font-weight="400" text-anchor="middle" fill="#262626" stroke="#262626" stroke-width="0.16" >37</text>
<line x1="1100" y1="938.5" x2="1133" y2="938.5" stroke="#2b2b2b" stroke-width="0.9" />
<line x1="1100" y1="954.5" x2="1133" y2="954.5" stroke="#2b2b2b" stroke-width="0.9" />
<line x1="1110" y1="987.5" x2="1133" y2="987.5" stroke="#2b2b2b" stroke-width="0.9" />
<line x1="1127.5" y1="925" x2="1127.5" y2="988" stroke="#2b2b2b" stroke-width="0.9" />
<path d="M1127.80,938.80 L1126.00,930.80 L1129.60,930.80 Z" fill="#2b2b2b"/>
<path d="M1127.80,954.50 L1129.60,962.50 L1126.00,962.50 Z" fill="#2b2b2b"/>
<path d="M1127.80,987.00 L1126.00,979.00 L1129.60,979.00 Z" fill="#2b2b2b"/>
<text x="1125" y="954" font-size="14" font-weight="400" text-anchor="start" fill="#262626" stroke="#262626" stroke-width="0.15" textLength="14" lengthAdjust="spacingAndGlyphs" transform="rotate(-90 1125 954)" >16</text>
<text x="1125" y="978" font-size="14" font-weight="400" text-anchor="start" fill="#262626" stroke="#262626" stroke-width="0.15" textLength="14" lengthAdjust="spacingAndGlyphs" transform="rotate(-90 1125 978)" >33</text>
<path d="M216,1021.6 H226.5 L228,1023.6 L230.5,1018.6 L232,1021.6 H241 V1230 H232 L230.5,1228 L228,1233 L226.5,1230 H216 Z" fill="#d0d2d4" stroke="#2b2b2b" stroke-width="1.5" />
<path d="M216,1193.6 H122 V1203.1 L125.25,1205.6 L119.25,1209.7 L122,1211.2 V1218 H216 Z" fill="#d0d2d4" stroke="#2b2b2b" stroke-width="1.5" />
<path d="M168,1155.6 H84 V1163.6 L87.25,1165.6 L81.25,1169.1 L84,1170.3 V1176 H168 Z" fill="#fff" stroke="#2b2b2b" stroke-width="1.5" />
<g transform="translate(341.13,647.7) scale(-0.645,0.645)"><path d="M276,652.7 H306.5 Q310.3,652.7 310.3,656.5 V783.5 Q310.3,787.3 306.5,787.3 H276" fill="none" stroke="#3a3a3a" stroke-width="1.4" stroke-linejoin="round"/>
<rect x="276.5" y="653" width="7.5" height="134" rx="0" fill="#7a7a7a" stroke="#333" stroke-width="1.0"/>
<rect x="279.8" y="653" width="2.2" height="134" rx="0" fill="#a8a8a8" stroke="none" stroke-width="0"/>
<rect x="293" y="687.5" width="8.6" height="14.4" rx="4.3" ry="4.6" fill="none" stroke="#333" stroke-width="1.5"/>
<rect x="293" y="751.5" width="8.6" height="14.4" rx="4.3" ry="4.6" fill="none" stroke="#333" stroke-width="1.5"/>
<path d="M214,649.3 L230,652.7 H277" fill="none" stroke="#2b2b2b" stroke-width="1.3" stroke-linejoin="round"/>
<path d="M230,652.7 H277" fill="none" stroke="#2b2b2b" stroke-width="2.2" stroke-linejoin="round"/>
<path d="M214,649.3 L216,672 V733" fill="none" stroke="#2b2b2b" stroke-width="1.2" stroke-linejoin="round"/>
<path d="M244,654 L263.8,770 L276.5,786" fill="none" stroke="#2b2b2b" stroke-width="1.4" stroke-linejoin="round"/>
<path d="M218.7,759.3 V662 Q218.7,658 222.7,658 H234 V759.3" fill="none" stroke="#2b2b2b" stroke-width="1.1" stroke-linejoin="round"/>
<path d="M234,658 L243,656" fill="none" stroke="#2b2b2b" stroke-width="0.8" stroke-linejoin="round"/>
<rect x="234" y="658" width="4" height="102" rx="0" fill="#333" stroke="none" stroke-width="1.0"/>
<rect x="218.7" y="680.7" width="15.3" height="78.6" rx="0" fill="none" stroke="#2b2b2b" stroke-width="1.4"/>
<rect x="222.7" y="685.3" width="8" height="8" rx="0" fill="#333" stroke="#111" stroke-width="1.2"/>
<rect x="225.2" y="687.8" width="3" height="3" rx="0" fill="#fff" stroke="none" stroke-width="1.0"/>
<rect x="222.7" y="748" width="8" height="8" rx="0" fill="#333" stroke="#111" stroke-width="1.2"/>
<rect x="224.5" y="750" width="4.5" height="2" rx="0" fill="#fff" stroke="none" stroke-width="1.0"/>
<rect x="238" y="681" width="2.5" height="10" rx="0" fill="#777" stroke="none" stroke-width="1.0"/>
<rect x="210.7" y="673.3" width="4" height="60" rx="0" fill="#2a2a2a" stroke="none" stroke-width="1.0"/>
<path d="M215.5,733 V777.5 H211 V798" fill="none" stroke="#2b2b2b" stroke-width="1.8" stroke-linejoin="round"/>
<rect x="210.5" y="777.5" width="5" height="21" rx="1.5" fill="#2a2a2a" stroke="none" stroke-width="1.0"/>
<path d="M237,759.5 V751.5 H259.5 L262.5,762 H223 V759.5 Z" fill="#333" stroke="#2b2b2b" stroke-width="1.0" stroke-linejoin="round"/>
<rect x="242.5" y="755.5" width="6" height="3.5" rx="0" fill="#ddd" stroke="none" stroke-width="1.0"/>
<rect x="253" y="753.5" width="6" height="5.5" rx="0" fill="#fff" stroke="none" stroke-width="1.0"/>
<path d="M238,751.5 V742 H244 L247,751" fill="none" stroke="#2b2b2b" stroke-width="1.2" stroke-linejoin="round"/>
<path d="M223.3,795 V762 H262.5 V786.5" fill="none" stroke="#2b2b2b" stroke-width="2.6" stroke-linejoin="round"/>
<rect x="257" y="762" width="6.4" height="24.5" rx="0" fill="#2a2a2a" stroke="none" stroke-width="1.0"/>
<path d="M225.5,766.5 H254.6 V790" fill="none" stroke="#555" stroke-width="1.0" stroke-linejoin="round"/>
<path d="M229.3,777.5 H244.3 L247,780.5 V790 H254" fill="none" stroke="#666" stroke-width="2.0" stroke-linejoin="round"/>
<path d="M242,782 H226.8 V791 Q226.8,793 229,793 H240" fill="none" stroke="#777" stroke-width="1.8" stroke-linejoin="round"/>
<path d="M248,773 L253,768.5 L254.5,777 L248,777 Z" fill="#333" stroke="#2b2b2b" stroke-width="0.8" stroke-linejoin="round"/>
<path d="M244.5,782 V828" fill="none" stroke="#8a8a8a" stroke-width="2.6" stroke-linejoin="round"/>
<path d="M223.3,784.3 H211" fill="none" stroke="#2b2b2b" stroke-width="2.2" stroke-linejoin="round"/>
<path d="M258,787.3 H277" fill="none" stroke="#2b2b2b" stroke-width="2.0" stroke-linejoin="round"/>
<path d="M198.3,808.3 V841 Q198.3,844.3 202,844.3 H257.3 V813" fill="none" stroke="#2b2b2b" stroke-width="1.8" stroke-linejoin="round"/>
<path d="M200.8,822 V840 Q200.8,842 203,842 H255" fill="none" stroke="#888" stroke-width="0.9" stroke-linejoin="round"/>
<path d="M198.3,808.3 H203 V806.5 H214 V808.3 H219.7 V820" fill="none" stroke="#2b2b2b" stroke-width="1.8" stroke-linejoin="round"/>
<path d="M203,818 V811 H210 L213,808.5 H216.5 V818" fill="none" stroke="#333" stroke-width="1.6" stroke-linejoin="round"/>
<rect x="204.5" y="812" width="4" height="4" rx="0" fill="#fff" stroke="#444" stroke-width="0.8"/>
<path d="M198.3,821.5 H219.7" fill="none" stroke="#555" stroke-width="1.2" stroke-linejoin="round"/>
<path d="M220.3,844 V812 H257.3" fill="none" stroke="#2b2b2b" stroke-width="1.6" stroke-linejoin="round"/>
<path d="M239,813.5 H224 V843" fill="none" stroke="#666" stroke-width="2.2" stroke-linejoin="round"/>
<path d="M244.5,795 V828 H228.3" fill="none" stroke="#666" stroke-width="2.2" stroke-linejoin="round"/>
<path d="M247,813 V822 H254" fill="none" stroke="#2b2b2b" stroke-width="1.2" stroke-linejoin="round"/>
<path d="M248,829 Q253,830 251,836 L256,839" fill="none" stroke="#2b2b2b" stroke-width="1.4" stroke-linejoin="round"/>
<rect x="254.5" y="813" width="3" height="31" rx="0" fill="#444" stroke="none" stroke-width="1.0"/>
<path d="M194.5,730 H198.5 V738 Q201,740 201,743 V790 Q201,794 197,795 H194.5" fill="none" stroke="#333" stroke-width="1.2" stroke-linejoin="round"/>
<rect x="264.7" y="798" width="3.3" height="12" rx="0" fill="#ddd" stroke="#444" stroke-width="0.8"/>
<path d="M268,788 V821.3 H290" fill="none" stroke="#2b2b2b" stroke-width="2.2" stroke-linejoin="round"/>
<path d="M286,821.3 L292,826 H297" fill="none" stroke="#2b2b2b" stroke-width="1.8" stroke-linejoin="round"/>
<path d="M300,821.5 H307" fill="none" stroke="#2b2b2b" stroke-width="2.0" stroke-linejoin="round"/>
<path d="M166.5,751.0 L170.0,748.4 L171.6,746.2 L173.6,748.4 L175.8,746.2 L177.8,748.4 L180.0,746.2 L182.0,748.4 L184.2,746.2 L186.2,748.4 L188.4,746.2 L190.4,748.4 L193.0,748.4 L193.0,753.6 L188.4,755.8 L186.4,753.6 L184.2,755.8 L182.2,753.6 L180.0,755.8 L178.0,753.6 L175.8,755.8 L173.8,753.6 L171.6,755.8 L169.6,753.6 L170.0,753.6 Z" fill="#2a2a2a" stroke="#2a2a2a" stroke-width="0.6"/>
<rect x="193" y="742" width="4.2" height="18" rx="1" fill="#2a2a2a"/>
<path d="M166.5,782.0 L170.0,779.4 L171.6,777.2 L173.6,779.4 L175.8,777.2 L177.8,779.4 L180.0,777.2 L182.0,779.4 L184.2,777.2 L186.2,779.4 L188.4,777.2 L190.4,779.4 L193.0,779.4 L193.0,784.6 L188.4,786.8 L186.4,784.6 L184.2,786.8 L182.2,784.6 L180.0,786.8 L178.0,784.6 L175.8,786.8 L173.8,784.6 L171.6,786.8 L169.6,784.6 L170.0,784.6 Z" fill="#2a2a2a" stroke="#2a2a2a" stroke-width="0.6"/>
<rect x="193" y="773" width="4.2" height="18" rx="1" fill="#2a2a2a"/></g>
<rect x="158" y="1068" width="3.2" height="87.5" fill="#2a2a2a"/>
<line x1="76" y1="1068.5" x2="203" y2="1068.5" stroke="#2b2b2b" stroke-width="1.3" />
<line x1="72" y1="1094.5" x2="146" y2="1094.5" stroke="#2b2b2b" stroke-width="1.3" />
<line x1="72" y1="1135.5" x2="146" y2="1135.5" stroke="#2b2b2b" stroke-width="1.3" />
<line x1="72" y1="1176.5" x2="84" y2="1176.5" stroke="#2b2b2b" stroke-width="1.3" />
<line x1="77.5" y1="1062" x2="77.5" y2="1181" stroke="#2b2b2b" stroke-width="1.0" />
<path d="M77.00,1068.00 L75.40,1061.00 L78.60,1061.00 Z" fill="#2b2b2b"/>
<path d="M77.00,1094.00 L78.60,1101.00 L75.40,1101.00 Z" fill="#2b2b2b"/>
<path d="M77.00,1094.00 L75.40,1087.00 L78.60,1087.00 Z" fill="#2b2b2b"/>
<path d="M77.00,1135.60 L78.60,1142.60 L75.40,1142.60 Z" fill="#2b2b2b"/>
<path d="M77.00,1135.60 L75.40,1128.60 L78.60,1128.60 Z" fill="#2b2b2b"/>
<path d="M77.00,1176.00 L78.60,1183.00 L75.40,1183.00 Z" fill="#2b2b2b"/>
<text x="71" y="1088" font-size="14" font-weight="400" text-anchor="start" fill="#262626" stroke="#262626" stroke-width="0.15" textLength="14" lengthAdjust="spacingAndGlyphs" transform="rotate(-90 71 1088)" >20</text>
<text x="71" y="1123" font-size="14" font-weight="400" text-anchor="start" fill="#262626" stroke="#262626" stroke-width="0.15" textLength="14.5" lengthAdjust="spacingAndGlyphs" transform="rotate(-90 71 1123)" >32</text>
<text x="71" y="1164" font-size="14" font-weight="400" text-anchor="start" fill="#262626" stroke="#262626" stroke-width="0.15" textLength="14.5" lengthAdjust="spacingAndGlyphs" transform="rotate(-90 71 1164)" >32</text>
<line x1="149.5" y1="1036" x2="149.5" y2="1094" stroke="#2b2b2b" stroke-width="1.3" />
<line x1="160.5" y1="1036" x2="160.5" y2="1068" stroke="#2b2b2b" stroke-width="1.3" />
<line x1="138" y1="1042.5" x2="173" y2="1042.5" stroke="#2b2b2b" stroke-width="0.9" />
<path d="M149.00,1042.00 L142.00,1043.80 L142.00,1040.20 Z" fill="#2b2b2b"/>
<path d="M160.50,1042.00 L167.50,1040.20 L167.50,1043.80 Z" fill="#2b2b2b"/>
<text x="155" y="1040" font-size="13" font-weight="400" text-anchor="middle" fill="#262626" stroke="#262626" stroke-width="0.14" >9</text>
<text x="58" y="1259.3" font-size="14" font-weight="400" text-anchor="start" fill="#262626" stroke="#262626" stroke-width="0.15" textLength="192.5" lengthAdjust="spacingAndGlyphs" >Размеры&#160;&#160;для крепления</text>
<text x="99.8" y="1278" font-size="14" font-weight="400" text-anchor="start" fill="#262626" stroke="#262626" stroke-width="0.15" textLength="109.5" lengthAdjust="spacingAndGlyphs" >задней стенки</text>
<rect x="324.5" y="1027.2" width="168.7" height="191.3" fill="#dcdde0" stroke="#2b2b2b" stroke-width="1.4" />
<path d="M400.3,1022 C408,1040 410.8,1058 410.8,1072 C410.8,1100 393.3,1140 393.3,1163 C393.3,1190 395,1205 400.3,1225" fill="none" stroke="#fff" stroke-width="6.5" />
<path d="M396.7,1022 C404.4,1040 407.2,1058 407.2,1072 C407.2,1100 389.7,1140 389.7,1163 C389.7,1190 391.4,1205 396.7,1225" fill="none" stroke="#2b2b2b" stroke-width="1.2" />
<path d="M403.90000000000003,1022 C411.6,1040 414.40000000000003,1058 414.40000000000003,1072 C414.40000000000003,1100 396.90000000000003,1140 396.90000000000003,1163 C396.90000000000003,1190 398.6,1205 403.90000000000003,1225" fill="none" stroke="#2b2b2b" stroke-width="1.2" />
<circle cx="349" cy="1098.3" r="3.8" fill="none" stroke="#2b2b2b" stroke-width="1.3"/>
<line x1="345" y1="1098.5" x2="353" y2="1098.5" stroke="#2b2b2b" stroke-width="0.9" />
<line x1="349.5" y1="1094.3" x2="349.5" y2="1102.3" stroke="#2b2b2b" stroke-width="0.9" />
<circle cx="349" cy="1144.5" r="3.8" fill="none" stroke="#2b2b2b" stroke-width="1.3"/>
<line x1="345" y1="1144.5" x2="353" y2="1144.5" stroke="#2b2b2b" stroke-width="0.9" />
<line x1="349.5" y1="1140.5" x2="349.5" y2="1148.5" stroke="#2b2b2b" stroke-width="0.9" />
<circle cx="466.8" cy="1098.3" r="3.8" fill="none" stroke="#2b2b2b" stroke-width="1.3"/>
<line x1="462.8" y1="1098.5" x2="470.8" y2="1098.5" stroke="#2b2b2b" stroke-width="0.9" />
<line x1="466.5" y1="1094.3" x2="466.5" y2="1102.3" stroke="#2b2b2b" stroke-width="0.9" />
<circle cx="466.8" cy="1144.5" r="3.8" fill="none" stroke="#2b2b2b" stroke-width="1.3"/>
<line x1="462.8" y1="1144.5" x2="470.8" y2="1144.5" stroke="#2b2b2b" stroke-width="0.9" />
<line x1="466.5" y1="1140.5" x2="466.5" y2="1148.5" stroke="#2b2b2b" stroke-width="0.9" />
<line x1="338" y1="1098.5" x2="386.3" y2="1098.5" stroke="#2b2b2b" stroke-width="1.3" />
<line x1="338" y1="1144.5" x2="386.3" y2="1144.5" stroke="#2b2b2b" stroke-width="1.3" />
<line x1="470" y1="1098.5" x2="520.5" y2="1098.5" stroke="#2b2b2b" stroke-width="1.3" />
<line x1="470" y1="1144.5" x2="549.7" y2="1144.5" stroke="#2b2b2b" stroke-width="1.3" />
<line x1="493.2" y1="1218.5" x2="549.7" y2="1218.5" stroke="#2b2b2b" stroke-width="1.3" />
<line x1="514.5" y1="1098.3" x2="514.5" y2="1144.5" stroke="#2b2b2b" stroke-width="1.0" />
<path d="M514.20,1098.30 L516.00,1106.30 L512.40,1106.30 Z" fill="#2b2b2b"/>
<path d="M514.20,1144.50 L512.40,1136.50 L516.00,1136.50 Z" fill="#2b2b2b"/>
<line x1="545.5" y1="1144.5" x2="545.5" y2="1218.5" stroke="#2b2b2b" stroke-width="1.0" />
<path d="M545.50,1144.50 L547.30,1152.50 L543.70,1152.50 Z" fill="#2b2b2b"/>
<path d="M545.50,1218.50 L543.70,1210.50 L547.30,1210.50 Z" fill="#2b2b2b"/>
<text x="510" y="1129" font-size="14" font-weight="400" text-anchor="start" fill="#262626" stroke="#262626" stroke-width="0.15" textLength="17.5" lengthAdjust="spacingAndGlyphs" transform="rotate(-90 510 1129)" >32</text>
<text x="539.5" y="1206" font-size="12.5" font-weight="400" text-anchor="start" fill="#262626" stroke="#262626" stroke-width="0.14" textLength="55" lengthAdjust="spacingAndGlyphs" transform="rotate(-90 539.5 1206)" >47,5 min</text>
<line x1="377" y1="999.5" x2="441.2" y2="999.5" stroke="#2b2b2b" stroke-width="1.1" />
<line x1="441.2" y1="999.2" x2="472.7" y2="1124" stroke="#2b2b2b" stroke-width="1.0" />
<path d="M466.50,1098.00 L462.55,1089.71 L466.04,1088.83 Z" fill="#2b2b2b"/>
<path d="M467.20,1098.60 L471.15,1106.89 L467.66,1107.77 Z" fill="#2b2b2b"/>
<text x="388.5" y="996.3" font-size="14" font-weight="700" text-anchor="start" fill="#262626" stroke="#262626" stroke-width="0.45" textLength="7.8" lengthAdjust="spacingAndGlyphs" >ø</text>
<text x="398.3" y="996.3" font-size="14" font-weight="400" text-anchor="start" fill="#262626" stroke="#262626" stroke-width="0.15" textLength="7.5" lengthAdjust="spacingAndGlyphs" >2</text>
<text x="408.5" y="989" font-size="6.5" font-weight="400" text-anchor="start" fill="#888" stroke="#888" stroke-width="0.07" textLength="13" lengthAdjust="spacingAndGlyphs" >+0.1</text>
<text x="408.5" y="994.5" font-size="6.5" font-weight="400" text-anchor="start" fill="#888" stroke="#888" stroke-width="0.07" textLength="13" lengthAdjust="spacingAndGlyphs" >-0.1</text>
<text x="376.3" y="1011.3" font-size="13.5" font-weight="400" text-anchor="start" fill="#262626" stroke="#262626" stroke-width="0.15" textLength="61" lengthAdjust="spacingAndGlyphs" >4 отв. h12</text>
<text x="274" y="1259.3" font-size="14" font-weight="400" text-anchor="start" fill="#262626" stroke="#262626" stroke-width="0.15" textLength="279" lengthAdjust="spacingAndGlyphs" >Размеры для крепления фиксаторов</text>
<text x="325.8" y="1278.6" font-size="14" font-weight="400" text-anchor="start" fill="#262626" stroke="#262626" stroke-width="0.15" textLength="177.7" lengthAdjust="spacingAndGlyphs" >фасада на внутренней</text>
<text x="334.8" y="1297.5" font-size="14" font-weight="400" text-anchor="start" fill="#262626" stroke="#262626" stroke-width="0.15" textLength="162" lengthAdjust="spacingAndGlyphs" >поверхности фасада</text>
<text x="767.5" y="1114.6" font-size="23" font-weight="700" text-anchor="start" fill="#262626" stroke="#262626" stroke-width="0.45" textLength="231.5" lengthAdjust="spacingAndGlyphs" >Держатель SBH40</text>
<path d="M878,1156.5 H803 Q795,1156.5 795,1164.5 V1258.5 Q795,1266.5 803,1266.5 H878" fill="none" stroke="#444" stroke-width="1.3" />
<path d="M878,1159.5 H805 Q798.5,1159.5 798.5,1166 V1257 Q798.5,1263.5 805,1263.5 H878" fill="none" stroke="#777" stroke-width="0.9" />
<path d="M878,1156.8 H993.5 Q1005.8,1172 1005.8,1211.2 Q1005.8,1250 993.5,1265.6 H878 Z" fill="none" stroke="#444" stroke-width="1.3" />
<path d="M990,1161 Q1001.5,1176 1001.5,1211.2 Q1001.5,1246 990,1261.5" fill="none" stroke="#888" stroke-width="1.0" />
<rect x="878" y="1157.5" width="114" height="6" fill="#cdcdcd"/>
<rect x="878" y="1259.4" width="114" height="6" fill="#cdcdcd"/>
<line x1="878" y1="1163.5" x2="990" y2="1163.5" stroke="#555" stroke-width="1.1" />
<line x1="878" y1="1259.5" x2="990" y2="1259.5" stroke="#555" stroke-width="1.1" />
<line x1="878.5" y1="1156.8" x2="878.5" y2="1309.5" stroke="#2b2b2b" stroke-width="1.2" />
<rect x="878.5" y="1163.8" width="2.6" height="95.6" fill="#aaa"/>
<rect x="986.5" y="1161" width="3" height="101" fill="#aaa"/>
<line x1="989.5" y1="1161" x2="989.5" y2="1262" stroke="#555" stroke-width="1.0" />
<line x1="899.5" y1="1156.8" x2="899.5" y2="1163.8" stroke="#555" stroke-width="0.9" />
<line x1="899.5" y1="1259.4" x2="899.5" y2="1265.6" stroke="#555" stroke-width="0.9" />
<line x1="920.5" y1="1156.8" x2="920.5" y2="1163.8" stroke="#555" stroke-width="0.9" />
<line x1="920.5" y1="1259.4" x2="920.5" y2="1265.6" stroke="#555" stroke-width="0.9" />
<line x1="956.5" y1="1156.8" x2="956.5" y2="1163.8" stroke="#555" stroke-width="0.9" />
<line x1="956.5" y1="1259.4" x2="956.5" y2="1265.6" stroke="#555" stroke-width="0.9" />
<line x1="977.5" y1="1156.8" x2="977.5" y2="1163.8" stroke="#555" stroke-width="0.9" />
<line x1="977.5" y1="1259.4" x2="977.5" y2="1265.6" stroke="#555" stroke-width="0.9" />
<rect x="878.5" y="1185" width="57.7" height="5" fill="#fff" stroke="#666" stroke-width="1.1" />
<rect x="878.5" y="1231.5" width="57.7" height="5" fill="#fff" stroke="#666" stroke-width="1.1" />
<line x1="884.5" y1="1185" x2="884.5" y2="1190" stroke="#777" stroke-width="0.8" />
<line x1="884.5" y1="1231.5" x2="884.5" y2="1236.5" stroke="#777" stroke-width="0.8" />
<line x1="895.5" y1="1185" x2="895.5" y2="1190" stroke="#777" stroke-width="0.8" />
<line x1="895.5" y1="1231.5" x2="895.5" y2="1236.5" stroke="#777" stroke-width="0.8" />
<line x1="908.5" y1="1185" x2="908.5" y2="1190" stroke="#777" stroke-width="0.8" />
<line x1="908.5" y1="1231.5" x2="908.5" y2="1236.5" stroke="#777" stroke-width="0.8" />
<line x1="922.5" y1="1185" x2="922.5" y2="1190" stroke="#777" stroke-width="0.8" />
<line x1="922.5" y1="1231.5" x2="922.5" y2="1236.5" stroke="#777" stroke-width="0.8" />
<rect x="972.5" y="1197.5" width="15" height="28" fill="#fff" stroke="#555" stroke-width="1.0" />
<line x1="980.5" y1="1197.5" x2="980.5" y2="1225.5" stroke="#777" stroke-width="0.8" />
<circle cx="829" cy="1211" r="18.5" fill="none" stroke="#444" stroke-width="1.2"/>
<circle cx="829" cy="1211" r="10" fill="none" stroke="#444" stroke-width="1.2"/>
<circle cx="829" cy="1211" r="7.5" fill="none" stroke="#777" stroke-width="0.8"/>
<line x1="759.5" y1="1211.5" x2="867" y2="1211.5" stroke="#555" stroke-width="0.9" stroke-dasharray="7 2.5 1.5 2.5"/>
<line x1="829.5" y1="1175" x2="829.5" y2="1309.5" stroke="#555" stroke-width="0.9" stroke-dasharray="7 2.5 1.5 2.5"/>
<line x1="728" y1="1156.5" x2="795" y2="1156.5" stroke="#2b2b2b" stroke-width="1.0" />
<line x1="728" y1="1266.5" x2="795" y2="1266.5" stroke="#2b2b2b" stroke-width="1.0" />
<line x1="735.5" y1="1156.5" x2="735.5" y2="1266.5" stroke="#2b2b2b" stroke-width="1.0" />
<path d="M735.40,1156.50 L737.40,1166.50 L733.40,1166.50 Z" fill="#2b2b2b"/>
<path d="M735.40,1266.50 L733.40,1256.50 L737.40,1256.50 Z" fill="#2b2b2b"/>
<line x1="768.5" y1="1156.5" x2="768.5" y2="1211" stroke="#2b2b2b" stroke-width="1.0" />
<path d="M768.00,1156.50 L770.00,1166.50 L766.00,1166.50 Z" fill="#2b2b2b"/>
<path d="M768.00,1211.00 L766.00,1201.00 L770.00,1201.00 Z" fill="#2b2b2b"/>
<line x1="829" y1="1294.5" x2="878" y2="1294.5" stroke="#2b2b2b" stroke-width="1.0" />
<path d="M829.00,1294.80 L839.00,1292.80 L839.00,1296.80 Z" fill="#2b2b2b"/>
<path d="M878.00,1294.80 L868.00,1296.80 L868.00,1292.80 Z" fill="#2b2b2b"/>
<text x="854.4" y="1289.7" font-size="17" font-weight="400" text-anchor="middle" fill="#262626" stroke="#262626" stroke-width="0.19" >9</text>
<text x="732.6" y="1227.3" font-size="17" font-weight="400" text-anchor="start" fill="#262626" stroke="#262626" stroke-width="0.19" textLength="34" lengthAdjust="spacingAndGlyphs" transform="rotate(-90 732.6 1227.3)" >23,2</text>
<text x="765.7" y="1199" font-size="17" font-weight="400" text-anchor="start" fill="#262626" stroke="#262626" stroke-width="0.19" textLength="32.6" lengthAdjust="spacingAndGlyphs" transform="rotate(-90 765.7 1199)" >11,6</text>
</svg>
</body></html>
